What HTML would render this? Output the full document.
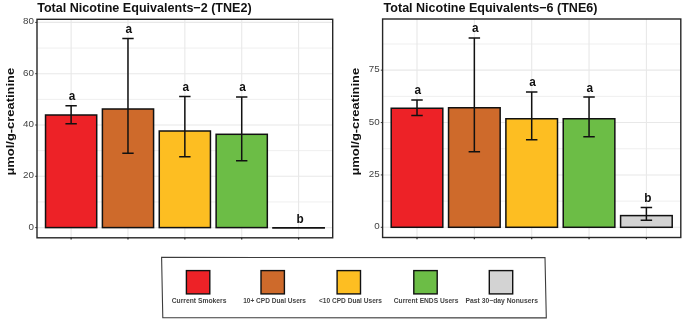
<!DOCTYPE html>
<html><head><meta charset="utf-8"><title>TNE chart</title>
<style>
html,body{margin:0;padding:0;background:#fff;width:685px;height:320px;overflow:hidden}
svg{display:block;filter:blur(0.4px)}
text{font-family:"Liberation Sans", sans-serif}
</style></head><body>
<svg width="685" height="320" viewBox="0 0 685 320">
<rect width="685" height="320" fill="#fff"/>
<line x1="37" x2="332.7" y1="201.95" y2="201.95" stroke="#EBEBEB" stroke-width="0.8"/>
<line x1="37" x2="332.7" y1="150.65" y2="150.65" stroke="#EBEBEB" stroke-width="0.8"/>
<line x1="37" x2="332.7" y1="99.35" y2="99.35" stroke="#EBEBEB" stroke-width="0.8"/>
<line x1="37" x2="332.7" y1="48.05" y2="48.05" stroke="#EBEBEB" stroke-width="0.8"/>
<line x1="37" x2="332.7" y1="227.60" y2="227.60" stroke="#E8E8E8" stroke-width="1.1"/>
<line x1="37" x2="332.7" y1="176.30" y2="176.30" stroke="#E8E8E8" stroke-width="1.1"/>
<line x1="37" x2="332.7" y1="125.00" y2="125.00" stroke="#E8E8E8" stroke-width="1.1"/>
<line x1="37" x2="332.7" y1="73.70" y2="73.70" stroke="#E8E8E8" stroke-width="1.1"/>
<line x1="37" x2="332.7" y1="22.40" y2="22.40" stroke="#E8E8E8" stroke-width="1.1"/>
<line x1="71.12" x2="71.12" y1="19.3" y2="237.8" stroke="#E8E8E8" stroke-width="1.1"/>
<line x1="127.98" x2="127.98" y1="19.3" y2="237.8" stroke="#E8E8E8" stroke-width="1.1"/>
<line x1="184.85" x2="184.85" y1="19.3" y2="237.8" stroke="#E8E8E8" stroke-width="1.1"/>
<line x1="241.72" x2="241.72" y1="19.3" y2="237.8" stroke="#E8E8E8" stroke-width="1.1"/>
<line x1="298.58" x2="298.58" y1="19.3" y2="237.8" stroke="#E8E8E8" stroke-width="1.1"/>
<rect x="45.53" y="115.00" width="51.18" height="112.60" fill="#ED2227" stroke="#111" stroke-width="1.5"/>
<path d="M65.43 105.70H76.81M71.12 105.70V123.75M65.43 123.75H76.81" stroke="#111" stroke-width="1.5" fill="none"/>
<text transform="translate(71.92,99.70) scale(0.88,1)" font-size="13.4" font-weight="bold" text-anchor="middle" fill="#111">a</text>
<rect x="102.40" y="109.00" width="51.18" height="118.60" fill="#CE6A2B" stroke="#111" stroke-width="1.5"/>
<path d="M122.30 38.50H133.67M127.98 38.50V153.25M122.30 153.25H133.67" stroke="#111" stroke-width="1.5" fill="none"/>
<text transform="translate(128.78,32.90) scale(0.88,1)" font-size="13.4" font-weight="bold" text-anchor="middle" fill="#111">a</text>
<rect x="159.26" y="131.00" width="51.18" height="96.60" fill="#FDBE22" stroke="#111" stroke-width="1.5"/>
<path d="M179.16 96.60H190.54M184.85 96.60V156.80M179.16 156.80H190.54" stroke="#111" stroke-width="1.5" fill="none"/>
<text transform="translate(185.65,90.50) scale(0.88,1)" font-size="13.4" font-weight="bold" text-anchor="middle" fill="#111">a</text>
<rect x="216.13" y="134.30" width="51.18" height="93.30" fill="#6CBD46" stroke="#111" stroke-width="1.5"/>
<path d="M236.03 96.90H247.40M241.72 96.90V160.70M236.03 160.70H247.40" stroke="#111" stroke-width="1.5" fill="none"/>
<text transform="translate(242.52,91.20) scale(0.88,1)" font-size="13.4" font-weight="bold" text-anchor="middle" fill="#111">a</text>
<line x1="272.19" x2="324.97" y1="227.80" y2="227.80" stroke="#111" stroke-width="1.8"/>
<text transform="translate(300.08,222.90) scale(0.88,1)" font-size="13.4" font-weight="bold" text-anchor="middle" fill="#111">b</text>
<rect x="37" y="19.3" width="295.7" height="218.5" fill="none" stroke="#262626" stroke-width="1.4"/>
<line x1="35.2" x2="37" y1="227.60" y2="227.60" stroke="#262626" stroke-width="0.9"/>
<text x="34.0" y="229.60" font-size="9.8" text-anchor="end" fill="#424242">0</text>
<line x1="35.2" x2="37" y1="176.30" y2="176.30" stroke="#262626" stroke-width="0.9"/>
<text x="34.0" y="178.30" font-size="9.8" text-anchor="end" fill="#424242">20</text>
<line x1="35.2" x2="37" y1="125.00" y2="125.00" stroke="#262626" stroke-width="0.9"/>
<text x="34.0" y="127.00" font-size="9.8" text-anchor="end" fill="#424242">40</text>
<line x1="35.2" x2="37" y1="73.70" y2="73.70" stroke="#262626" stroke-width="0.9"/>
<text x="34.0" y="75.70" font-size="9.8" text-anchor="end" fill="#424242">60</text>
<line x1="35.2" x2="37" y1="22.40" y2="22.40" stroke="#262626" stroke-width="0.9"/>
<text x="34.0" y="24.40" font-size="9.8" text-anchor="end" fill="#424242">80</text>
<line x1="71.12" x2="71.12" y1="237.8" y2="239.60000000000002" stroke="#262626" stroke-width="1.2"/>
<line x1="127.98" x2="127.98" y1="237.8" y2="239.60000000000002" stroke="#262626" stroke-width="1.2"/>
<line x1="184.85" x2="184.85" y1="237.8" y2="239.60000000000002" stroke="#262626" stroke-width="1.2"/>
<line x1="241.72" x2="241.72" y1="237.8" y2="239.60000000000002" stroke="#262626" stroke-width="1.2"/>
<line x1="298.58" x2="298.58" y1="237.8" y2="239.60000000000002" stroke="#262626" stroke-width="1.2"/>
<text x="37.2" y="12.35" font-size="13.0" font-weight="bold" fill="#111" textLength="214.5" lengthAdjust="spacingAndGlyphs">Total Nicotine Equivalents−2 (TNE2)</text>
<text transform="translate(13.9,175.6) rotate(-90)" x="0" y="0" font-size="10.8" font-weight="bold" fill="#111" textLength="107.8" lengthAdjust="spacingAndGlyphs">μmol/g-creatinine</text>
<line x1="382.6" x2="680.8" y1="201.11" y2="201.11" stroke="#EBEBEB" stroke-width="0.8"/>
<line x1="382.6" x2="680.8" y1="148.74" y2="148.74" stroke="#EBEBEB" stroke-width="0.8"/>
<line x1="382.6" x2="680.8" y1="96.36" y2="96.36" stroke="#EBEBEB" stroke-width="0.8"/>
<line x1="382.6" x2="680.8" y1="43.99" y2="43.99" stroke="#EBEBEB" stroke-width="0.8"/>
<line x1="382.6" x2="680.8" y1="227.30" y2="227.30" stroke="#E8E8E8" stroke-width="1.1"/>
<line x1="382.6" x2="680.8" y1="174.93" y2="174.93" stroke="#E8E8E8" stroke-width="1.1"/>
<line x1="382.6" x2="680.8" y1="122.55" y2="122.55" stroke="#E8E8E8" stroke-width="1.1"/>
<line x1="382.6" x2="680.8" y1="70.17" y2="70.17" stroke="#E8E8E8" stroke-width="1.1"/>
<line x1="417.01" x2="417.01" y1="19.0" y2="237.5" stroke="#E8E8E8" stroke-width="1.1"/>
<line x1="474.35" x2="474.35" y1="19.0" y2="237.5" stroke="#E8E8E8" stroke-width="1.1"/>
<line x1="531.70" x2="531.70" y1="19.0" y2="237.5" stroke="#E8E8E8" stroke-width="1.1"/>
<line x1="589.05" x2="589.05" y1="19.0" y2="237.5" stroke="#E8E8E8" stroke-width="1.1"/>
<line x1="646.39" x2="646.39" y1="19.0" y2="237.5" stroke="#E8E8E8" stroke-width="1.1"/>
<rect x="391.20" y="108.25" width="51.61" height="119.05" fill="#ED2227" stroke="#111" stroke-width="1.5"/>
<path d="M411.27 100.00H422.74M417.01 100.00V115.50M411.27 115.50H422.74" stroke="#111" stroke-width="1.5" fill="none"/>
<text transform="translate(417.81,94.00) scale(0.88,1)" font-size="13.4" font-weight="bold" text-anchor="middle" fill="#111">a</text>
<rect x="448.55" y="107.75" width="51.61" height="119.55" fill="#CE6A2B" stroke="#111" stroke-width="1.5"/>
<path d="M468.62 38.00H480.09M474.35 38.00V151.75M468.62 151.75H480.09" stroke="#111" stroke-width="1.5" fill="none"/>
<text transform="translate(475.15,32.30) scale(0.88,1)" font-size="13.4" font-weight="bold" text-anchor="middle" fill="#111">a</text>
<rect x="505.89" y="118.75" width="51.61" height="108.55" fill="#FDBE22" stroke="#111" stroke-width="1.5"/>
<path d="M525.97 92.10H537.43M531.70 92.10V139.75M525.97 139.75H537.43" stroke="#111" stroke-width="1.5" fill="none"/>
<text transform="translate(532.50,86.20) scale(0.88,1)" font-size="13.4" font-weight="bold" text-anchor="middle" fill="#111">a</text>
<rect x="563.24" y="118.75" width="51.61" height="108.55" fill="#6CBD46" stroke="#111" stroke-width="1.5"/>
<path d="M583.31 97.00H594.78M589.05 97.00V136.75M583.31 136.75H594.78" stroke="#111" stroke-width="1.5" fill="none"/>
<text transform="translate(589.85,91.50) scale(0.88,1)" font-size="13.4" font-weight="bold" text-anchor="middle" fill="#111">a</text>
<rect x="620.59" y="215.60" width="51.61" height="11.70" fill="#D3D3D3" stroke="#111" stroke-width="1.5"/>
<path d="M640.66 207.50H652.13M646.39 207.50V220.30M640.66 220.30H652.13" stroke="#111" stroke-width="1.5" fill="none"/>
<text transform="translate(647.89,202.00) scale(0.88,1)" font-size="13.4" font-weight="bold" text-anchor="middle" fill="#111">b</text>
<rect x="382.6" y="19.0" width="298.19999999999993" height="218.5" fill="none" stroke="#262626" stroke-width="1.4"/>
<line x1="380.8" x2="382.6" y1="227.30" y2="227.30" stroke="#262626" stroke-width="0.9"/>
<text x="379.6" y="229.30" font-size="9.8" text-anchor="end" fill="#424242">0</text>
<line x1="380.8" x2="382.6" y1="174.93" y2="174.93" stroke="#262626" stroke-width="0.9"/>
<text x="379.6" y="176.93" font-size="9.8" text-anchor="end" fill="#424242">25</text>
<line x1="380.8" x2="382.6" y1="122.55" y2="122.55" stroke="#262626" stroke-width="0.9"/>
<text x="379.6" y="124.55" font-size="9.8" text-anchor="end" fill="#424242">50</text>
<line x1="380.8" x2="382.6" y1="70.17" y2="70.17" stroke="#262626" stroke-width="0.9"/>
<text x="379.6" y="72.17" font-size="9.8" text-anchor="end" fill="#424242">75</text>
<line x1="417.01" x2="417.01" y1="237.5" y2="239.3" stroke="#262626" stroke-width="1.2"/>
<line x1="474.35" x2="474.35" y1="237.5" y2="239.3" stroke="#262626" stroke-width="1.2"/>
<line x1="531.70" x2="531.70" y1="237.5" y2="239.3" stroke="#262626" stroke-width="1.2"/>
<line x1="589.05" x2="589.05" y1="237.5" y2="239.3" stroke="#262626" stroke-width="1.2"/>
<line x1="646.39" x2="646.39" y1="237.5" y2="239.3" stroke="#262626" stroke-width="1.2"/>
<text x="383.6" y="12.35" font-size="13.0" font-weight="bold" fill="#111" textLength="213.8" lengthAdjust="spacingAndGlyphs">Total Nicotine Equivalents−6 (TNE6)</text>
<text transform="translate(359.1,175.6) rotate(-90)" x="0" y="0" font-size="10.8" font-weight="bold" fill="#111" textLength="107.8" lengthAdjust="spacingAndGlyphs">μmol/g-creatinine</text>
<path d="M161.6 257.4 L545.0 257.6 L546.3 317.9 L162.8 317.8 Z" fill="none" stroke="#3C3C3C" stroke-width="1.1"/>
<rect x="186.40" y="270.6" width="23.4" height="23.3" fill="#ED2227" stroke="#111" stroke-width="1.4"/>
<text x="171.75" y="303.1" font-size="7" font-weight="bold" fill="#444" textLength="54.7" lengthAdjust="spacingAndGlyphs">Current Smokers</text>
<rect x="261.00" y="270.6" width="23.4" height="23.3" fill="#CE6A2B" stroke="#111" stroke-width="1.4"/>
<text x="243.20" y="303.1" font-size="7" font-weight="bold" fill="#444" textLength="62.8" lengthAdjust="spacingAndGlyphs">10+ CPD Dual Users</text>
<rect x="337.10" y="270.6" width="23.4" height="23.3" fill="#FDBE22" stroke="#111" stroke-width="1.4"/>
<text x="318.95" y="303.1" font-size="7" font-weight="bold" fill="#444" textLength="63.1" lengthAdjust="spacingAndGlyphs">&lt;10 CPD Dual Users</text>
<rect x="413.80" y="270.6" width="23.4" height="23.3" fill="#6CBD46" stroke="#111" stroke-width="1.4"/>
<text x="393.80" y="303.1" font-size="7" font-weight="bold" fill="#444" textLength="64.6" lengthAdjust="spacingAndGlyphs">Current ENDS Users</text>
<rect x="489.30" y="270.6" width="23.4" height="23.3" fill="#D3D3D3" stroke="#111" stroke-width="1.4"/>
<text x="465.50" y="303.1" font-size="7" font-weight="bold" fill="#444" textLength="72.4" lengthAdjust="spacingAndGlyphs">Past 30−day Nonusers</text>
</svg>
</body></html>
